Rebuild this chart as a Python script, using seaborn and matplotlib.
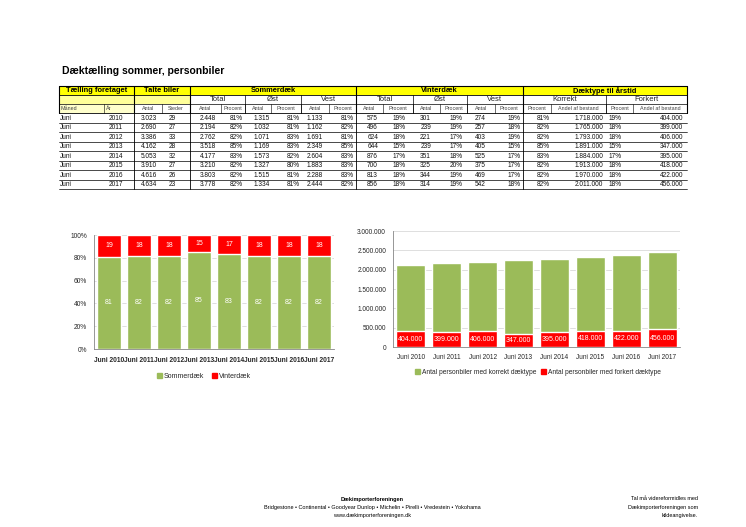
import matplotlib
matplotlib.use("Agg")
import matplotlib.pyplot as plt
import seaborn as sns
import pandas as pd
import numpy as np
from matplotlib.patches import Rectangle
from matplotlib.lines import Line2D
from matplotlib.ticker import FuncFormatter, FixedLocator

# ---------------- data ----------------
years = [2010, 2011, 2012, 2013, 2014, 2015, 2016, 2017]
maaned = ["Juni"] * 8
talte_antal = [3023, 2690, 3386, 4162, 5053, 3910, 4616, 4634]
talte_steder = [29, 27, 33, 28, 32, 27, 26, 23]
sommer_total_antal = [2448, 2194, 2762, 3518, 4177, 3210, 3803, 3778]
sommer_total_pct = [81, 82, 82, 85, 83, 82, 82, 82]
sommer_oest_antal = [1315, 1032, 1071, 1169, 1573, 1327, 1515, 1334]
sommer_oest_pct = [81, 81, 83, 83, 82, 80, 81, 81]
sommer_vest_antal = [1133, 1162, 1691, 2349, 2604, 1883, 2288, 2444]
sommer_vest_pct = [81, 82, 81, 85, 83, 83, 83, 82]
vinter_total_antal = [575, 496, 624, 644, 876, 700, 813, 856]
vinter_total_pct = [19, 18, 18, 15, 17, 18, 18, 18]
vinter_oest_antal = [301, 239, 221, 239, 351, 325, 344, 314]
vinter_oest_pct = [19, 19, 17, 17, 18, 20, 19, 19]
vinter_vest_antal = [274, 257, 403, 405, 525, 375, 469, 542]
vinter_vest_pct = [19, 18, 19, 15, 17, 17, 17, 18]
korrekt_pct = [81, 82, 82, 85, 83, 82, 82, 82]
korrekt_bestand = [1718000, 1765000, 1793000, 1891000, 1884000, 1913000, 1970000, 2011000]
forkert_pct = [19, 18, 18, 15, 17, 18, 18, 18]
forkert_bestand = [404000, 399000, 406000, 347000, 395000, 418000, 422000, 456000]

categories = [f"Juni {y}" for y in years]

GREEN = "#9bbb59"
RED = "#ff0000"

sns.set_style("white")
plt.rcParams["font.family"] = ["Liberation Sans", "DejaVu Sans"]

W, H = 746, 527
fig = plt.figure(figsize=(W / 100, H / 100), dpi=100)


def fx(x):
    return x / W


def fy(y):
    return 1 - y / H


def rect(x0, y0, x1, y1, color):
    fig.add_artist(Rectangle((fx(x0), fy(y1)), fx(x1) - fx(x0), fy(y0) - fy(y1),
                             transform=fig.transFigure, facecolor=color,
                             edgecolor="none", zorder=0))


def hline(y, x0, x1, lw=0.5):
    fig.add_artist(Line2D([fx(x0), fx(x1)], [fy(y), fy(y)], transform=fig.transFigure,
                          color="black", lw=lw, zorder=2))


def vline(x, y0, y1, lw=0.5):
    fig.add_artist(Line2D([fx(x), fx(x)], [fy(y0), fy(y1)], transform=fig.transFigure,
                          color="black", lw=lw, zorder=2))


def txt(x, y, s, ha="center", size=4.6, weight="normal", color="black"):
    fig.text(fx(x), fy(y), s, ha=ha, va="center", fontsize=size,
             fontweight=weight, color=color)


def dk(n):
    return f"{n:,}".replace(",", ".")


# ---------------- title ----------------
txt(62, 71, "Dæktælling sommer, personbiler", ha="left", size=7.5, weight="bold")

# ---------------- table ----------------
E = [59, 104, 134, 162, 190, 221, 245, 271, 301, 329, 356, 383, 413, 440, 467, 495,
     523, 551, 606, 633, 687]
R1, R2, R3, R4 = 86, 95, 104, 113
RH = 9.5

groups = [(59, 134, "Tælling foretaget"), (134, 190, "Talte biler"),
          (190, 356, "Sommerdæk"), (356, 523, "Vinterdæk"),
          (523, 687, "Dæktype til årstid")]
subgroups = [(59, 134, ""), (134, 190, ""), (190, 245, "Total"), (245, 301, "Øst"),
             (301, 356, "Vest"), (356, 413, "Total"), (413, 467, "Øst"),
             (467, 523, "Vest"), (523, 606, "Korrekt"), (606, 687, "Forkert")]
row3 = ["Måned", "År", "Antal", "Steder", "Antal", "Procent", "Antal", "Procent",
        "Antal", "Procent", "Antal", "Procent", "Antal", "Procent", "Antal", "Procent",
        "Procent", "Andel af bestand", "Procent", "Andel af bestand"]

# backgrounds
rect(59, R1, 687, R2, "#ffff00")
rect(59, R2, 190, R3, "#ffff99")
rect(59, R3, 134, R4, "#ffffcc")

for x0, x1, s in groups:
    txt((x0 + x1) / 2, (R1 + R2) / 2 + 0.3, s, size=5.4, weight="bold")
for x0, x1, s in subgroups:
    if s:
        txt((x0 + x1) / 2, (R2 + R3) / 2 + 0.3, s, size=5.5, color="#222222")
for i, s in enumerate(row3):
    x0, x1 = E[i], E[i + 1]
    if i < 2:
        txt(x0 + 1.5, (R3 + R4) / 2 + 0.3, s, ha="left", size=3.9, color="#444444")
    else:
        txt((x0 + x1) / 2, (R3 + R4) / 2 + 0.3, s, size=3.9, color="#444444")

# header lines
hline(R1, 59, 687, 0.8)
hline(R2, 59, 687, 0.6)
hline(R3, 59, 687, 0.5)
hline(R4, 59, 687, 0.6)
for x in [59, 134, 190, 356, 523, 687]:
    vline(x, R1, R4, 0.8)
for x0, x1, s in subgroups:
    vline(x0, R2, R4, 0.5)
for x in E:
    vline(x, R3, R4, 0.4)

# data rows
cols = [
    (maaned, "left", 60, str),
    (years, "right", 123, str),
    (talte_antal, "right", 157, dk),
    (talte_steder, "right", 176, str),
    (sommer_total_antal, "right", 216, dk),
    (sommer_total_pct, "right", 243, lambda v: f"{v}%"),
    (sommer_oest_antal, "right", 270, dk),
    (sommer_oest_pct, "right", 300, lambda v: f"{v}%"),
    (sommer_vest_antal, "right", 323, dk),
    (sommer_vest_pct, "right", 354, lambda v: f"{v}%"),
    (vinter_total_antal, "right", 378, dk),
    (vinter_total_pct, "right", 406, lambda v: f"{v}%"),
    (vinter_oest_antal, "right", 431, dk),
    (vinter_oest_pct, "right", 463, lambda v: f"{v}%"),
    (vinter_vest_antal, "right", 486, dk),
    (vinter_vest_pct, "right", 521, lambda v: f"{v}%"),
    (korrekt_pct, "right", 550, lambda v: f"{v}%"),
    (korrekt_bestand, "right", 603, dk),
    (forkert_pct, "right", 622, lambda v: f"{v}%"),
    (forkert_bestand, "right", 683, dk),
]
for r in range(len(years)):
    yc = R4 + RH * r + RH / 2 + 0.4
    for vals, ha, x, f in cols:
        txt(x, yc, f(vals[r]), ha=ha, size=4.7, color="#111111")
    hline(R4 + RH * (r + 1), 59, 687, 0.5)
bottom = R4 + RH * len(years)
for x in [134, 190, 356, 523]:
    vline(x, R4, bottom, 0.6)


# ---------------- chart helpers ----------------
def style_axes(ax, xpad):
    for s in ["top", "right"]:
        ax.spines[s].set_visible(False)
    for s in ["left", "bottom"]:
        ax.spines[s].set_color("#868686")
        ax.spines[s].set_linewidth(0.6)
    ax.grid(axis="y", color="#d9d9d9", lw=0.6)
    ax.set_axisbelow(True)
    ax.set_xlim(-0.5, len(categories) - 0.5)
    ax.xaxis.set_minor_locator(FixedLocator(np.arange(-0.5, len(categories), 1.0)))
    ax.tick_params(axis="x", which="major", length=0, pad=xpad)
    ax.tick_params(axis="x", which="minor", length=3, width=0.6, color="#868686")
    ax.tick_params(axis="y", length=3, width=0.6, color="#868686", pad=2)
    ax.set_xlabel("")
    ax.set_ylabel("")


# ---------------- left chart: 100% stacked ----------------
ax1 = fig.add_axes([fx(94), fy(349), fx(334) - fx(94), fy(235) - fy(349)])
share = [s / (s + w) * 100 for s, w in zip(sommer_total_pct, vinter_total_pct)]
full = [(s + w) / (s + w) * 100 for s, w in zip(sommer_total_pct, vinter_total_pct)]
df1 = pd.DataFrame({"cat": categories, "share": share, "full": full})
sns.barplot(data=df1, x="cat", y="full", color=RED, saturation=1, width=0.83, ax=ax1)
sns.barplot(data=df1, x="cat", y="share", color=GREEN, saturation=1, width=0.83, ax=ax1)
ax1.bar_label(ax1.containers[1], labels=[str(v) for v in sommer_total_pct],
              label_type="center", color="white", fontsize=5)
for i, (sh, w) in enumerate(zip(share, vinter_total_pct)):
    ax1.text(i, sh + (100 - sh) / 2, str(w), ha="center", va="center",
             color="white", fontsize=5)
ax1.set_ylim(0, 100)
ax1.set_yticks(np.arange(0, 101, 20))
ax1.yaxis.set_major_formatter(FuncFormatter(lambda v, p: f"{int(v)}%"))
style_axes(ax1, 6)
ax1.tick_params(axis="y", labelsize=4.8)
ax1.tick_params(axis="x", labelsize=4.8)
for t in ax1.get_xticklabels():
    t.set_fontweight("bold")

h1 = [Rectangle((0, 0), 1, 1, color=GREEN), Rectangle((0, 0), 1, 1, color=RED)]
fig.legend(h1, ["Sommerdæk", "Vinterdæk"], loc="center",
           bbox_to_anchor=(fx(204), fy(376)), ncol=2, frameon=False, fontsize=5,
           handlelength=0.7, handleheight=0.7, handletextpad=0.3, columnspacing=1.2)

# ---------------- right chart: stacked counts ----------------
ax2 = fig.add_axes([fx(393), fy(347), fx(680) - fx(393), fy(231) - fy(347)])
total = [k + f for k, f in zip(korrekt_bestand, forkert_bestand)]
df2 = pd.DataFrame({"cat": categories, "total": total, "forkert": forkert_bestand})
sns.barplot(data=df2, x="cat", y="total", color=GREEN, saturation=1, width=0.81, ax=ax2)
sns.barplot(data=df2, x="cat", y="forkert", color=RED, saturation=1, width=0.81, ax=ax2)
ax2.bar_label(ax2.containers[1], labels=[dk(v) for v in forkert_bestand],
              label_type="center", color="white", fontsize=5)
ax2.set_ylim(0, 3000000)
ax2.set_yticks(np.arange(0, 3000001, 500000))
ax2.yaxis.set_major_formatter(FuncFormatter(lambda v, p: dk(int(v))))
style_axes(ax2, 5)
ax2.tick_params(axis="y", labelsize=4.7)
ax2.tick_params(axis="x", labelsize=4.7)

h2 = [Rectangle((0, 0), 1, 1, color=GREEN), Rectangle((0, 0), 1, 1, color=RED)]
fig.legend(h2, ["Antal personbiler med korrekt dæktype",
                "Antal personbiler med forkert dæktype"], loc="center",
           bbox_to_anchor=(fx(538), fy(372)), ncol=2, frameon=False, fontsize=4.8,
           handlelength=0.7, handleheight=0.7, handletextpad=0.3, columnspacing=0.8)

# ---------------- footer ----------------
txt(372, 499, "Dækimporterforeningen", size=4, weight="bold")
txt(372, 507, "Bridgestone • Continental • Goodyear Dunlop • Michelin • Pirelli • "
              "Vredestein • Yokohama", size=4)
txt(372, 515, "www.dækimporterforeningen.dk", size=4)
txt(698, 499, "Tal må videreformidles med", ha="right", size=4)
txt(698, 507, "Dækimporterforeningen som", ha="right", size=4)
txt(698, 515, "kildeangivelse.", ha="right", size=4)

fig.savefig("out.png", dpi=100)
